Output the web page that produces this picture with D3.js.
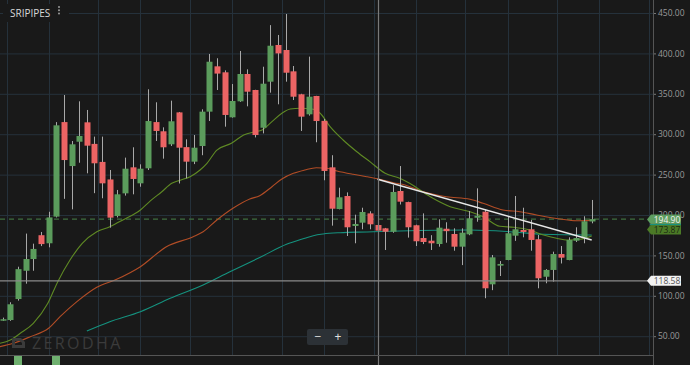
<!DOCTYPE html>
<html>
<head>
<meta charset="utf-8">
<script src="https://cdn.jsdelivr.net/npm/d3@7/dist/d3.min.js"></script>
<style>
  body { margin: 0; background: #191919; }
  svg { display: block; font-family: "Open Sans", sans-serif; }
</style>
</head>
<body>
<svg width="690" height="365"></svg>
<script>
// weekly candles
const opens  = [70,70,96,131,145.5,175,165,198,315,260.6,290.7,314.7,288,265.7,244,198.8,226.8,259,239.2,257.8,
  315,303.6,287.5,327,284,266,285.4,327.9,384,376.6,320.9,340.7,374.5,354.7,308,365,410.4,404.2,377.8,349.4,
  324.6,347.3,316.5,259,207.4,223.5,186.4,190.5,202,187.6,183.5,179.3,229.7,216,187.3,171.5,168.2,164.1,183,176.5,
  160.8,176.1,196.6,204.1,114.2,137.3,144.3,174.4,181.4,182.3,170,123.6,132,151.7,144.3,168.2,171.9,192];
const highs  = [73,92,136,177,164.5,179,204,315,348.5,291.6,340.7,330,297,297,255.7,231,271,283.8,262.7,355.6,
  339.5,308.5,341.5,327.5,293.7,299,330.8,399.3,394,379,362.1,403,380.3,355,383.5,435,422.8,448.8,384.4,350,
  396,347.5,319,274,233.8,228,200.4,209,204.6,196.6,184,237,260.6,216.5,188,202,175,194.7,191,183.5,
  183.5,205,233,207,150.5,143,198,223.5,209,193.8,175.3,133,154.6,161.6,172.4,184.8,198.4,218.6];
const lows   = [69,69,94,115,131,161.5,160,197,220,207,264.7,251.6,227,220.7,184.3,197,224,225.6,235,255.7,
  291.6,269.7,285.4,239,245.4,263,274,316.3,354.7,309.3,320.5,340,334.5,296,301,351.4,337,365,342.3,304,
  323,290,243,186.8,207,174,165,182.3,182.3,173,156.7,178,213,172,161.6,164,156.7,160.8,165.7,155.8,
  138,175,191.7,97,107,124.5,144,168,172.4,155.8,109.3,115.5,117.5,140,144,166.6,165,189.7];
const closes = [71,89.5,133,145.5,158,164,197,311,268,287.5,297.8,285.8,264,239.2,196.7,225.6,257.3,244.6,257.3,316.3,
  304,283.8,316,283.3,266,283.3,327.9,389.7,375,323.8,341.1,374.5,352.6,299,362.5,409.5,400,376.1,346.4,321.7,
  346.4,316.3,254.5,207.8,221.9,184.8,188.9,203.7,188.5,180.6,179.3,228.5,216.5,184.8,167.5,166.6,165,184.3,180,160.8,
  178.1,195.9,199.1,109.3,147.6,139.4,177.4,182.3,179,169.1,121.7,132,151.7,147.2,169.1,171.5,192.2,194.9];

// moving averages (candle index, price)
const fastMaIdx = [-0.4,1,2.3,4,5.9,7.2,8.8,10.4,12.3,14,15.7,18,19.3,20.8,22.1,23.2,24.5,25.8,26.7,28,29.9,31.5,33,33.9,35.2,36.5,37.6,38.9,40.6,41.5,42.8,44.5,46.3,48,50,51.9,53.2,55.9,58.5,61.1,62.8,65,66.8,68.9,70.7,72.4,73.9,75.5,77];
const fastMaVal = [41.2,45.3,53.6,66,90.7,117.5,144.3,165,179.3,185.5,193.8,206.2,217.5,228.8,239.2,243.1,247.4,255.7,264,280.4,288.7,299,303.1,305.2,315.5,325.9,331.2,332.1,330.8,325.9,309.3,292.8,278.3,266,251.6,245.4,239.2,222.6,210.3,204.1,197.9,186,184.8,181.4,175.2,171.2,169.1,169.9,173.9];
const midMaIdx = [-0.4,1.4,3.6,6,7.5,9.7,12.3,14.9,18,21.4,24.9,26.2,28,30.1,32.3,33.6,35.2,36.5,38,39.5,41,42.4,43.7,45.8,47.6,49.3,51.1,52.6,54.6,58,61.1,62.8,65.4,67.6,69.8,72.9,75,77];
const midMaVal = [37,41.2,49.4,59.8,74.1,92.7,110.5,120.4,136,160.8,173.1,179.3,193.8,208.3,219.8,223.9,235,244.6,251.6,255.7,258.5,257.8,254.5,250.4,247.4,244.2,240,237.1,230.1,222.6,219.4,214.5,206.2,204.1,200,195,192.9,193.4];
const slowMaIdx = [11,14,18,21.9,26.2,29.7,33.6,37.1,39.5,40.6,41.9,44.1,47.6,51.9,61.1,66.3,70.7,77];
const slowMaVal = [56.4,67.9,80.3,96.9,113.4,129.8,147.4,163.7,171.2,174.4,176.5,178.1,179,180.2,181.4,179.3,176.1,175.2];

// volume bars that poke into view at the bottom edge
const volumeIdx = [2, 7];

const priceTicks = [50,100,150,200,250,300,350,400,450];
const gridIdx = [0.5,6,12.5,18,24.5,30,36.5,42,48.5,54,60.5,66,72.5,78,84.5];
const trendIdx = [49,77];
const trendVal = [244.2,169.1];
const lastPrice = 194.90, fastMaLast = 173.87, crossPrice = 118.58, crossIdx = 49;

const svg = d3.select('svg');
const width = +svg.attr('width');
const height = +svg.attr('height');
const axisX = 653, plotBottom = 355;

const x = d3.scaleLinear().domain([0, 77]).range([2.7, 591.7]);
const y = d3.scaleLinear().domain([50, 450]).range([336.2, 13]);

svg.append('rect').attr('width', width).attr('height', height).attr('fill', '#191919');

svg.append('defs').append('clipPath').attr('id', 'plot')
  .append('rect').attr('width', axisX).attr('height', plotBottom);

// grid
const grid = svg.append('g');
grid.selectAll('.hg').data(priceTicks).enter().append('line')
  .attr('x1', 0).attr('x2', axisX)
  .attr('y1', d => y(d) + 0.5).attr('y2', d => y(d) + 0.5)
  .attr('stroke', '#25313b');
grid.selectAll('.vg').data(gridIdx).enter().append('line')
  .attr('x1', d => Math.round(x(d)) + 0.5).attr('x2', d => Math.round(x(d)) + 0.5)
  .attr('y1', 0).attr('y2', plotBottom)
  .attr('stroke', '#25313b');

const plot = svg.append('g').attr('clip-path', 'url(#plot)');

// last price dashed line
plot.append('line')
  .attr('x1', 0).attr('x2', axisX)
  .attr('y1', y(lastPrice)).attr('y2', y(lastPrice))
  .attr('stroke', '#3f6e3f').attr('stroke-width', 1.2).attr('stroke-dasharray', '5,4');

// moving averages
const maLine = d3.line().x(d => x(d[0])).y(d => y(d[1])).curve(d3.curveMonotoneX);
const mas = [
  { idx: slowMaIdx, val: slowMaVal, color: '#15927f' },
  { idx: midMaIdx, val: midMaVal, color: '#b24d26' },
  { idx: fastMaIdx, val: fastMaVal, color: '#5f8a24' }
];
mas.forEach(m => {
  plot.append('path')
    .datum(m.idx.map((d, i) => [d, m.val[i]]))
    .attr('d', maLine)
    .attr('fill', 'none')
    .attr('stroke', m.color)
    .attr('stroke-width', 1.1);
});

// candles
const candles = plot.selectAll('.candle').data(opens.map((o, i) => i)).enter()
  .append('g').attr('class', 'candle');
candles.append('line')
  .attr('x1', i => Math.round(x(i)) + 0.5).attr('x2', i => Math.round(x(i)) + 0.5)
  .attr('y1', i => y(highs[i])).attr('y2', i => y(lows[i]))
  .attr('stroke', '#a8a8a8').attr('stroke-width', 1);
candles.append('rect')
  .attr('x', i => Math.round(x(i)) - 2.5)
  .attr('width', 6)
  .attr('y', i => y(Math.max(opens[i], closes[i])))
  .attr('height', i => Math.max(1.5, Math.abs(y(opens[i]) - y(closes[i]))))
  .attr('fill', i => closes[i] >= opens[i] ? '#5b9c5c' : '#ec6464');

// trend line
plot.append('line')
  .attr('x1', x(trendIdx[0])).attr('y1', y(trendVal[0]))
  .attr('x2', x(trendIdx[1])).attr('y2', y(trendVal[1]))
  .attr('stroke', '#e8e8e8').attr('stroke-width', 1.4);

// volume strip below the price pane
svg.selectAll('.vol').data(volumeIdx).enter().append('rect')
  .attr('x', i => Math.round(x(i)) - 4)
  .attr('width', 8)
  .attr('y', plotBottom + 1)
  .attr('height', height - plotBottom - 1)
  .attr('fill', '#6fb06f');

// crosshair
svg.append('line')
  .attr('x1', Math.round(x(crossIdx)) + 0.5).attr('x2', Math.round(x(crossIdx)) + 0.5)
  .attr('y1', 0).attr('y2', height)
  .attr('stroke', '#7a7a7a').attr('stroke-width', 1.2);
svg.append('line')
  .attr('x1', 0).attr('x2', axisX)
  .attr('y1', y(crossPrice)).attr('y2', y(crossPrice))
  .attr('stroke', '#8a8a8a').attr('stroke-width', 1.2);

// bottom separator
svg.append('line')
  .attr('x1', 0).attr('x2', axisX)
  .attr('y1', plotBottom + 0.5).attr('y2', plotBottom + 0.5)
  .attr('stroke', '#555');

// right axis (200.00 sits behind the last price tag, as in the original)
const yAxis = d3.axisRight(y).tickValues(priceTicks).tickFormat(d3.format('.2f')).tickSize(3).tickPadding(2);
const axisG = svg.append('g').attr('transform', `translate(${axisX},0)`).call(yAxis);
axisG.select('.domain').remove();
axisG.selectAll('line').attr('stroke', '#777');
axisG.selectAll('text').attr('fill', '#9a9a9a').attr('font-size', 8.5).attr('font-family', '"Open Sans", sans-serif');
svg.append('line')
  .attr('x1', axisX + 0.5).attr('x2', axisX + 0.5)
  .attr('y1', 0).attr('y2', height)
  .attr('stroke', '#555');

// price tags
const tag = (cy, fill, textColor, label, edge, edgeTop) => {
  const g = svg.append('g');
  const h = 10, x0 = 651, x1 = 681;
  g.append('path')
    .attr('d', `M${x0 - 4},${cy} L${x0},${cy - h / 2} L${x1},${cy - h / 2} L${x1},${cy + h / 2} L${x0},${cy + h / 2} Z`)
    .attr('fill', fill);
  if (edge) {
    const ey = edgeTop ? cy - h / 2 : cy + h / 2;
    g.append('line').attr('x1', x0 - 1).attr('x2', x1).attr('y1', ey).attr('y2', ey)
      .attr('stroke', edge).attr('stroke-width', 1.2);
  }
  g.append('text')
    .attr('x', (x0 + x1) / 2 + 1).attr('y', cy + 3)
    .attr('text-anchor', 'middle')
    .attr('font-size', 8.5)
    .attr('fill', textColor)
    .text(label);
};
tag(219.5, '#5e9e60', '#f2f2f2', d3.format('.2f')(lastPrice), '#c2572c', false);
tag(229.5, '#4b7a26', '#1c2a12', d3.format('.2f')(fastMaLast), '#17907e', true);
tag(y(crossPrice), '#f2f2f2', '#555', d3.format('.2f')(crossPrice));

// title
svg.append('rect').attr('x', 3).attr('y', 4).attr('width', 66).attr('height', 18).attr('fill', '#191919');
svg.append('text').attr('x', 10).attr('y', 16.5)
  .attr('font-size', 10).attr('fill', '#d8d8d8').text('SRIPIPES');
svg.selectAll('.dot').data([0, 1, 2]).enter().append('circle')
  .attr('cx', 59).attr('cy', d => 7 + d * 3.2).attr('r', 1)
  .attr('fill', '#9a9a9a');

// watermark
const wm = svg.append('g').attr('fill', '#3b3b3b');
wm.append('path')
  .attr('d', 'M12,338 L21,338 L25,342 L25,348 L12,348 Z M15,341 L15,345 L22,345 L22,343 L20,341 Z')
  .attr('fill-rule', 'evenodd');
wm.append('text').attr('x', 32).attr('y', 348.5)
  .attr('font-size', 16).attr('letter-spacing', 2.4)
  .text('ZERODHA');

// zoom buttons
const zb = svg.append('g');
zb.append('rect').attr('x', 307).attr('y', 329).attr('width', 41).attr('height', 16).attr('rx', 2)
  .attr('fill', '#2c3136');
zb.append('text').attr('x', 318).attr('y', 341).attr('text-anchor', 'middle')
  .attr('font-size', 12).attr('fill', '#e0e0e0').text('−');
zb.append('text').attr('x', 338).attr('y', 341).attr('text-anchor', 'middle')
  .attr('font-size', 12).attr('fill', '#e0e0e0').text('+');
</script>
</body>
</html>
